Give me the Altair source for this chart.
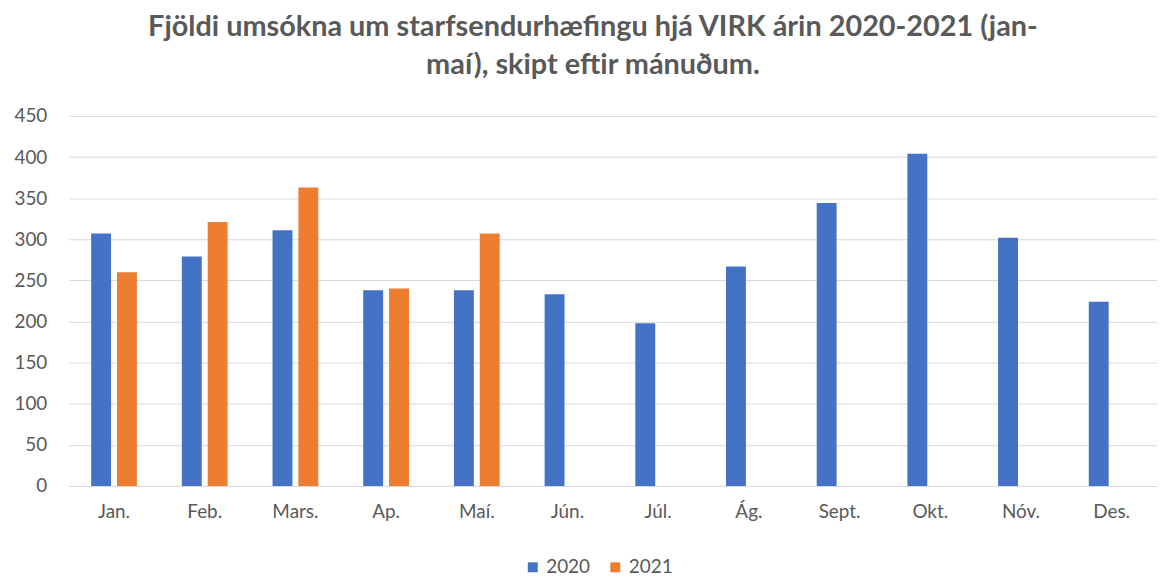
import altair as alt
import pandas as pd

months = ["Jan.", "Feb.", "Mars.", "Ap.", "Maí.", "Jún.", "Júl.", "Ág.", "Sept.", "Okt.", "Nóv.", "Des."]
years = ["2020", "2021"]
v2020 = [307, 279, 311, 238, 238, 233, 198, 267, 344, 404, 302, 224]
v2021 = [260, 321, 363, 240, 307]
colors = ["#4472C4", "#ED7D31"]
title_lines = ["Fjöldi umsókna um starfsendurhæfingu hjá VIRK árin 2020-2021 (jan-",
               "maí), skipt eftir mánuðum."]

rows = []
for m, v in zip(months, v2020):
    rows.append({"Mánuður": m, "Ár": "2020", "Fjöldi": v})
for m, v in zip(months, v2021):
    rows.append({"Mánuður": m, "Ár": "2021", "Fjöldi": v})
df = pd.DataFrame(rows)

FONT = "Lato"
GREY = "#595959"

chart = alt.Chart(df).mark_bar().encode(
    x=alt.X("Mánuður:N", sort=months,
            scale=alt.Scale(paddingInner=0.43, paddingOuter=0.215),
            axis=alt.Axis(title=None, labelAngle=0, ticks=False, tickSize=0,
                          domain=True, domainColor="#D9D9D9", labelPadding=17,
                          labelFontSize=19, labelColor=GREY, labelFont=FONT)),
    xOffset=alt.XOffset("Ár:N", sort=years,
                        scale=alt.Scale(domain=years, paddingInner=0.23, paddingOuter=0.115)),
    y=alt.Y("Fjöldi:Q", scale=alt.Scale(domain=[0, 450]),
            axis=alt.Axis(title=None, values=list(range(0, 451, 50)), domain=False,
                          ticks=False, tickSize=0, labelPadding=22, labelFontSize=19,
                          labelColor=GREY, labelFont=FONT, gridColor="#D9D9D9",
                          gridWidth=1)),
    color=alt.Color("Ár:N", sort=years,
                    scale=alt.Scale(domain=years, range=colors),
                    legend=alt.Legend(title=None, orient="none", direction="horizontal",
                                      legendX=457, legendY=444, symbolType="square",
                                      symbolSize=100, symbolStrokeWidth=0,
                                      labelFontSize=19, labelColor=GREY, labelFont=FONT,
                                      labelOffset=4, columnPadding=15, padding=0)),
).properties(
    width=1094,
    height=372,
    autosize=alt.AutoSizeParams(type="none"),
    padding={"left": 61, "top": 107, "right": 0, "bottom": 89},
    title=alt.TitleParams(text=title_lines, font=FONT, fontSize=29, fontWeight="bold",
                          color=GREY, anchor="middle", dx=-20, offset=27, lineHeight=38),
).configure_view(stroke=None)

chart.save("out.html", embed_options={"renderer": "svg", "actions": False})
